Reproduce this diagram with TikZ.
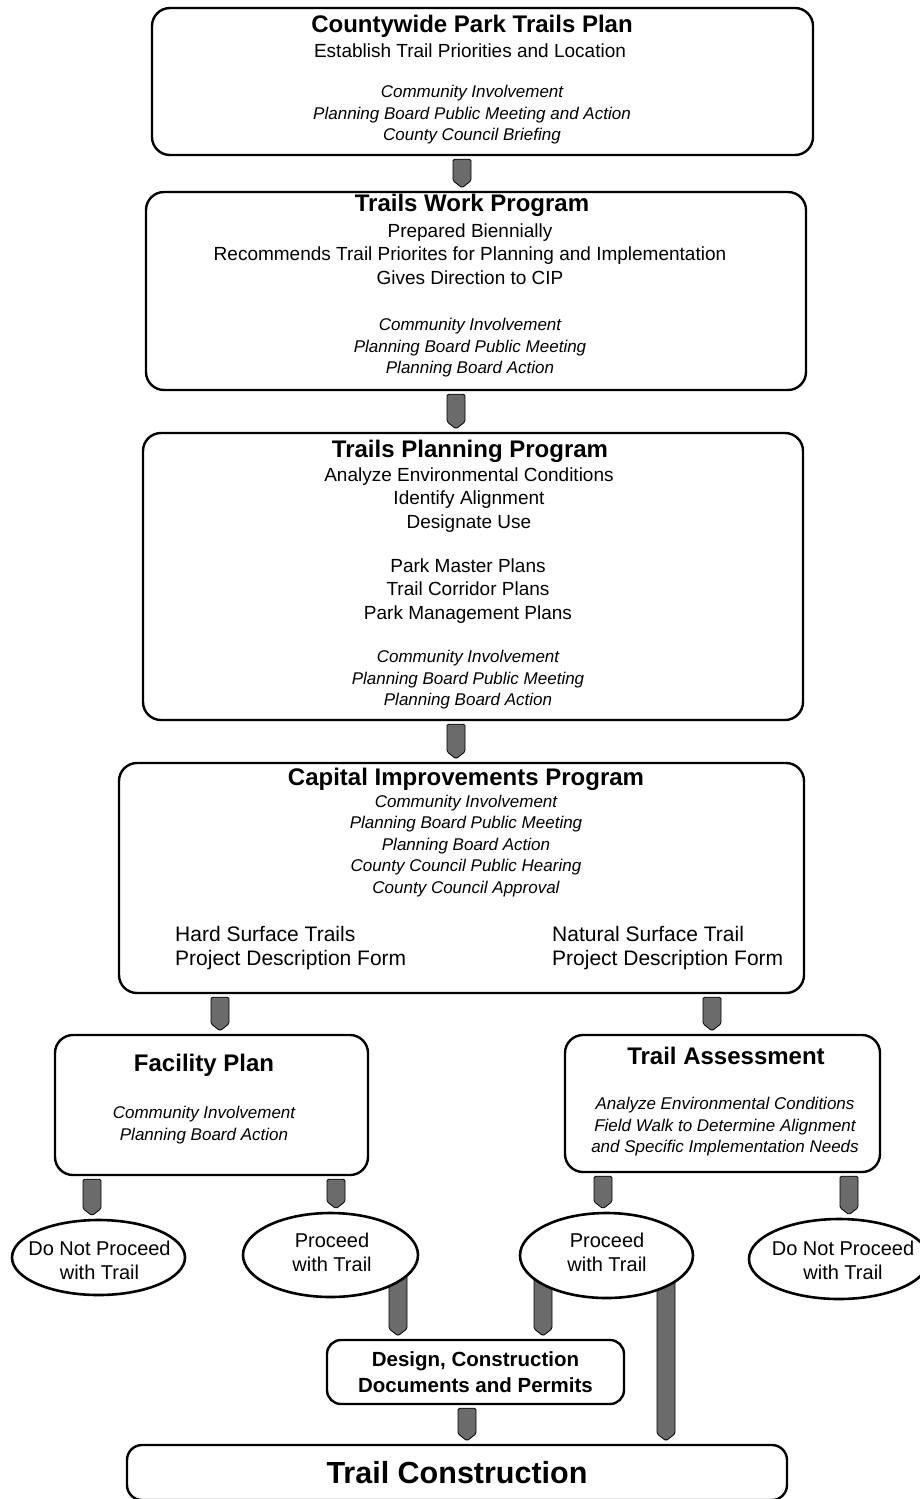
\documentclass[tikz,border=0pt]{standalone}
\usepackage{fontspec}
\setmainfont{Liberation Sans}
\usetikzlibrary{calc,shapes.geometric}
\pgfdeclarelayer{background}
\pgfsetlayers{background,main}
\tikzset{
  box/.style={draw, line width=2.4pt, rounded corners=18pt, fill=white, inner sep=0pt},
  oval/.style={ellipse, draw, line width=2.6pt, fill=white, inner sep=0pt},
  ovaltxt/.style={align=center, inner sep=0pt, font=\fontsize{20}{24}\selectfont},
  ttl/.style={font=\bfseries\fontsize{24}{28}\selectfont, inner sep=0pt},
  bod/.style={font=\fontsize{19}{23.3}\selectfont, align=center, inner sep=0pt},
  itl/.style={font=\itshape\fontsize{17}{21.5}\selectfont, align=center, inner sep=0pt},
  sid/.style={font=\fontsize{21}{24}\selectfont, align=left, anchor=west, inner sep=0pt},
  connbar/.style={fill=black!58, draw=black, line width=0.8pt, rounded corners=1.5pt},
}
\newcommand\connbar[4]{%
  \path[connbar] let \p1=(#1,0 |- #2), \p2=(#1,0 |- #3) in
  (\x1-9pt,\y1-#4) -- (\x1+9pt,\y1-#4) -- (\x1+9pt,\y2+10pt) -- (\x1,\y2+3pt) -- (\x1-9pt,\y2+10pt) -- cycle;}
\begin{document}
\begin{tikzpicture}[x=1pt,y=-1pt]
\useasboundingbox (0,0) rectangle (919,1499);

% Box 1
\node[box, minimum width=661pt, minimum height=147pt] (b1) at (482.5,81.5) {};
\node[ttl] (b1t) at (472,26) {Countywide Park Trails Plan};
\node[bod] (b1b) at (470,51) {Establish Trail Priorities and Location};
\node[itl] (b1i) at (472,115) {Community Involvement\\Planning Board Public Meeting and Action\\County Council Briefing};

% Box 2
\node[box, minimum width=660pt, minimum height=198pt] (b2) at (476,291) {};
\node[ttl] (b2t) at (472,205) {Trails Work Program};
\node[bod] (b2b) at (470,254) {Prepared Biennially\\Recommends Trail Priorites for Planning and Implementation\\Gives Direction to CIP};
\node[itl] (b2i) at (470,348) {Community Involvement\\Planning Board Public Meeting\\Planning Board Action};

% Box 3
\node[box, minimum width=660pt, minimum height=287pt] (b3) at (473,576.5) {};
\node[ttl] (b3t) at (470,451) {Trails Planning Program};
\node[bod] (b3b) at (469,500) {Analyze Environmental Conditions\\Identify Alignment\\Designate Use};
\node[bod] (b3c) at (468,591) {Park Master Plans\\Trail Corridor Plans\\Park Management Plans};
\node[itl] (b3i) at (468,680) {Community Involvement\\Planning Board Public Meeting\\Planning Board Action};

% Box 4
\node[box, minimum width=685pt, minimum height=230pt] (b4) at (461.5,878) {};
\node[ttl] (b4t) at (466,779) {Capital Improvements Program};
\node[itl] (b4i) at (466,846) {Community Involvement\\Planning Board Public Meeting\\Planning Board Action\\County Council Public Hearing\\County Council Approval};
\node[sid] (b4l) at (175,948) {Hard Surface Trails\\Project Description Form};
\node[sid] (b4r) at (552,948) {Natural Surface Trail\\Project Description Form};

% Facility plan
\node[box, minimum width=313pt, minimum height=140pt] (fac) at (211.5,1105) {};
\node[ttl] (fact) at (204,1065) {Facility Plan};
\node[itl] (faci) at (204,1125) {Community Involvement\\Planning Board Action};

% Trail assessment
\node[box, minimum width=315pt, minimum height=137pt] (ta) at (722.5,1103.5) {};
\node[ttl] (tat) at (726,1056) {Trail Assessment};
\node[itl] (tai) at (725,1127) {Analyze Environmental Conditions\\Field Walk to Determine Alignment\\and Specific Implementation Needs};

% Ovals
\node[oval, minimum width=173pt, minimum height=75pt] (dnl) at (98.5,1257.5) {};
\node[ovaltxt] (dnlt) at (99.5,1260) {Do Not Proceed\\with Trail};
\node[oval, minimum width=175pt, minimum height=84pt] (pl) at (330.5,1255) {};
\node[ovaltxt] (plt) at (332,1252) {Proceed\\with Trail};
\node[oval, minimum width=173pt, minimum height=85pt] (pr) at (606.5,1255.5) {};
\node[ovaltxt] (prt) at (607,1252) {Proceed\\with Trail};
\node[oval, minimum width=180pt, minimum height=80pt] (dnr) at (839,1259) {};
\node[ovaltxt] (dnrt) at (843,1260) {Do Not Proceed\\with Trail};

% Design box
\node[box, rounded corners=14pt, minimum width=297pt, minimum height=64pt, align=center,
      font=\bfseries\fontsize{20.5}{26}\selectfont] (des) at (475.5,1372) {Design, Construction\\Documents and Permits};

% Trail construction
\node[box, rounded corners=15pt, minimum width=660pt, minimum height=55pt,
      font=\bfseries\fontsize{30.5}{34}\selectfont] (tc) at (457,1472.5) {Trail Construction};

\begin{pgfonlayer}{background}
\connbar{462}{b1.south}{b2.north}{3pt}
\connbar{456}{b2.south}{b3.north}{3pt}
\connbar{456}{b3.south}{b4.north}{3pt}
\connbar{220}{b4.south}{fac.north}{3pt}
\connbar{712}{b4.south}{ta.north}{3pt}
\connbar{92}{fac.south}{dnl.north}{3pt}
\connbar{336}{fac.south}{pl.north}{3pt}
\connbar{603}{ta.south}{pr.north}{3pt}
\connbar{849}{ta.south}{dnr.north}{3pt}
\connbar{398}{pl.center}{des.north}{0pt}
\connbar{543}{pr.center}{des.north}{0pt}
\connbar{666}{pr.center}{tc.north}{0pt}
\connbar{467}{des.south}{tc.north}{3pt}
\end{pgfonlayer}
\end{tikzpicture}
\end{document}
